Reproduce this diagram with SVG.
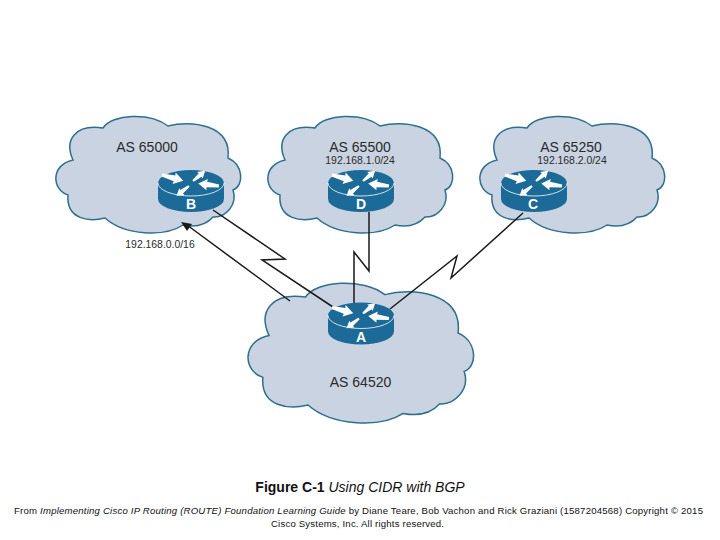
<svg xmlns="http://www.w3.org/2000/svg" xmlns:xlink="http://www.w3.org/1999/xlink" width="720" height="540" viewBox="0 0 720 540">
<style>
text{font-family:"Liberation Sans",Arial,sans-serif;fill:#2b2b2b}
.cloud{fill:#c9d3e2;stroke:#2e6f8e;stroke-width:1.5;vector-effect:non-scaling-stroke}
.as{font-size:14px;text-anchor:middle}
.sub{font-size:10.4px;text-anchor:middle}
.rl{font-size:14px;font-weight:bold;text-anchor:middle;fill:#fff}
.link{fill:none;stroke:#1a1a1a;stroke-width:1.5}
.foot{font-size:9.6px;fill:#111}
.arw{fill:#fff}
</style>
<defs>
<path id="cloudShape" class="cloud" d="M68 195 C52 190 50 165 73 160 C64 140 75 124 103 128 C112 114 150 112 168 126 C190 120 232 124 228 158 C244 165 244 186 233 190 C238 205 225 218 213 217 C205 226 193 227 183 225 C165 237 125 236 105 218 C90 222 66 220 68 195 Z"/>
<polygon id="ar" class="arw" points="0,-1.500 13,-3 12.500,-6 22,0 12.500,6 13,3 0,1.500"/>
<g id="router">
<path d="M-33 -8 V8 A33 13 0 0 0 33 8 V-8 Z" fill="#1b6a98"/>
<ellipse cx="0" cy="-8" rx="33" ry="13" fill="#1b6a98"/>
<path d="M-33 -8 A33 13 0 0 0 33 -8" fill="none" stroke="#fff" stroke-width=".8"/>
<use xlink:href="#ar" href="#ar" transform="translate(-29,-16) rotate(15)"/>
<use xlink:href="#ar" href="#ar" transform="translate(2,-10) rotate(-40) scale(.72)"/>
<use xlink:href="#ar" href="#ar" transform="translate(28,-5) rotate(187) scale(.95)"/>
<use xlink:href="#ar" href="#ar" transform="translate(-2,-5) rotate(142) scale(.72)"/>
</g>
</defs>
<rect width="720" height="540" fill="#fff"/>
<g id="cloud-b"><use xlink:href="#cloudShape" href="#cloudShape"/><text class="as" x="147" y="152">AS 65000</text></g>
<g id="cloud-d"><use xlink:href="#cloudShape" href="#cloudShape" transform="translate(212,0)"/><text class="as" x="360" y="152">AS 65500</text><text class="sub" x="360" y="164">192.168.1.0/24</text></g>
<g id="cloud-c"><use xlink:href="#cloudShape" href="#cloudShape" transform="translate(424,0)"/><text class="as" x="571" y="152">AS 65250</text><text class="sub" x="572" y="164">192.168.2.0/24</text></g>
<g id="cloud-a"><use xlink:href="#cloudShape" href="#cloudShape" transform="translate(247,285) scale(1.22,1.2) translate(-55,-118)"/><text class="as" x="360.500" y="387">AS 64520</text></g>
<g id="connectors">
<path class="link" d="M213 210 L285 259 L262 260 L336 309"/>
<path class="link" d="M290 301 L187 225"/>
<path d="M181 222 L192 224 L187 231 Z" fill="#1a1a1a"/>
<path class="link" d="M369 212 V271 L354 252 V303"/>
<path class="link" d="M523 213 L451 278 L457 256 L390 309"/>
</g>
<text id="prefix-label" class="sub" x="160" y="248">192.168.0.0/16</text>
<g id="router-b"><use xlink:href="#router" href="#router" transform="translate(191,191)"/><text class="rl" x="191" y="209">B</text></g>
<g id="router-d"><use xlink:href="#router" href="#router" transform="translate(361,191)"/><text class="rl" x="361" y="209">D</text></g>
<g id="router-c"><use xlink:href="#router" href="#router" transform="translate(534,191)"/><text class="rl" x="533" y="209">C</text></g>
<g id="router-a"><use xlink:href="#router" href="#router" transform="translate(361,323.500)"/><text class="rl" x="361" y="342">A</text></g>
<text x="360" y="492" text-anchor="middle" font-size="14" style="fill:#111"><tspan font-weight="bold">Figure C-1</tspan> <tspan font-style="italic">Using CIDR with BGP</tspan></text>
<text class="foot" x="14" y="514" textLength="689" lengthAdjust="spacing">From <tspan font-style="italic">Implementing Cisco IP Routing (ROUTE) Foundation Learning Guide</tspan> by Diane Teare, Bob Vachon and Rick Graziani (1587204568) Copyright © 2015</text>
<text class="foot" x="271" y="527" textLength="173" lengthAdjust="spacing">Cisco Systems, Inc. All rights reserved.</text>
</svg>
